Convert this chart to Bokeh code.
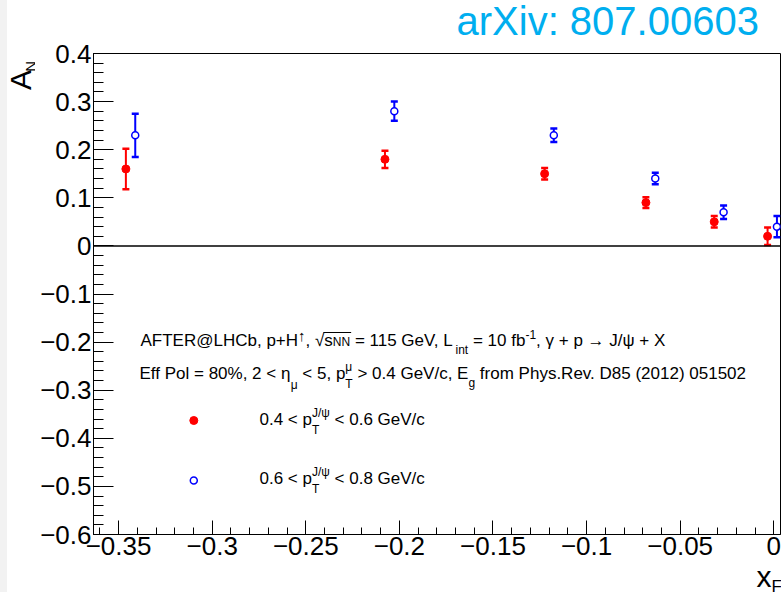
import math
from bokeh.plotting import figure
from bokeh.models import (Range1d, FixedTicker, Span, Whisker, TeeHead,
                          ColumnDataSource, Spacer)
from bokeh.layouts import row, column
from bokeh.embed import file_html
from bokeh.resources import INLINE
from bokeh.core.properties import value

# ---------------- data ----------------
red_x = [-0.3461, -0.2077, -0.1224, -0.0683, -0.0318, -0.0033]
red_y = [0.16, 0.18, 0.15, 0.09, 0.05, 0.02]
red_err = [0.042, 0.018, 0.012, 0.011, 0.012, 0.018]

blue_x = [-0.3411, -0.2027, -0.1175, -0.0633, -0.0268, 0.0017]
blue_y = [0.23, 0.28, 0.23, 0.14, 0.07, 0.04]
blue_err = [0.045, 0.020, 0.014, 0.012, 0.014, 0.022]

x_ticks = [-0.35, -0.3, -0.25, -0.2, -0.15, -0.1, -0.05, 0.0]
x_tick_labels = ["\u22120.35", "\u22120.3", "\u22120.25", "\u22120.2",
                 "\u22120.15", "\u22120.1", "\u22120.05", "0"]
y_ticks = [-0.6, -0.5, -0.4, -0.3, -0.2, -0.1, 0.0, 0.1, 0.2, 0.3, 0.4]
y_tick_labels = ["\u22120.6", "\u22120.5", "\u22120.4", "\u22120.3", "\u22120.2",
                 "\u22120.1", "0", "0.1", "0.2", "0.3", "0.4"]
x_minor = [round(-0.36 + 0.01 * i, 2) for i in range(37)]
y_minor = [round(-0.6 + 0.02 * i, 2) for i in range(51)]

title_text = "arXiv: 807.00603"

# ---------------- page geometry ----------------
W_TOT, H_TOT = 781, 592
PAD = 7                      # grey strip at the left edge
TITLE_H = 42                 # top strip holding the arXiv tag
BOT_H = 24                   # bottom strip holding the x-axis title
STRIP_W = 28                 # left strip holding the y-axis title
FRAME_L, FRAME_R, FRAME_T, FRAME_B = 93, 780, 53, 534
X0, X1 = -0.3634, 0.0036
Y0, Y1 = -0.6, 0.4
FONT = "Liberation Sans"
MID = 0.3465                 # baseline -> middle of the text box, in em

MAIN_X = PAD + STRIP_W
MAIN_W = W_TOT - MAIN_X
MAIN_H = H_TOT - TITLE_H - BOT_H


def dx(px):
    return X0 + (px - FRAME_L) / (FRAME_R - FRAME_L) * (X1 - X0)


def dy(py):
    return Y1 - (py - FRAME_T) / (FRAME_B - FRAME_T) * (Y1 - Y0)


p = figure(width=MAIN_W, height=MAIN_H,
           x_range=Range1d(X0, X1), y_range=Range1d(Y0, Y1),
           output_backend="svg", toolbar_location=None,
           min_border_left=FRAME_L - MAIN_X, min_border_right=W_TOT - FRAME_R,
           min_border_top=FRAME_T - TITLE_H, min_border_bottom=H_TOT - BOT_H - FRAME_B)
p.background_fill_color = "white"
p.border_fill_color = "white"
p.outline_line_color = "black"
p.outline_line_width = 1
p.xgrid.visible = False
p.ygrid.visible = False

p.xaxis.ticker = FixedTicker(ticks=x_ticks, minor_ticks=x_minor)
p.yaxis.ticker = FixedTicker(ticks=y_ticks, minor_ticks=y_minor)
p.xaxis.major_label_overrides = dict(zip(x_ticks, x_tick_labels))
p.yaxis.major_label_overrides = dict(zip(y_ticks, y_tick_labels))
for ax in (p.xaxis[0], p.yaxis[0]):
    ax.axis_line_color = "black"
    ax.axis_line_width = 1
    ax.major_tick_line_color = "black"
    ax.minor_tick_line_color = "black"
    ax.major_tick_out = 0
    ax.minor_tick_out = 0
    ax.major_label_text_font = FONT
    ax.major_label_text_font_size = "26px"
    ax.major_label_text_color = "black"
p.xaxis.major_tick_in = 14
p.xaxis.minor_tick_in = 7
p.yaxis.major_tick_in = 20
p.yaxis.minor_tick_in = 10
p.xaxis.major_label_standoff = 2
p.yaxis.major_label_standoff = 2

p.add_layout(Span(location=0, dimension="width", line_color="black", line_width=1.5))

# ---------------- data with error bars ----------------
rsrc = ColumnDataSource(dict(x=red_x, y=red_y,
                             lo=[y - e for y, e in zip(red_y, red_err)],
                             hi=[y + e for y, e in zip(red_y, red_err)]))
bsrc = ColumnDataSource(dict(x=blue_x, y=blue_y,
                             lo=[y - e for y, e in zip(blue_y, blue_err)],
                             hi=[y + e for y, e in zip(blue_y, blue_err)]))
for src, col in ((rsrc, "red"), (bsrc, "blue")):
    p.add_layout(Whisker(base="x", lower="lo", upper="hi", source=src,
                         line_color=col, line_width=2, level="underlay",
                         lower_head=TeeHead(size=7, line_color=col, line_width=2.5),
                         upper_head=TeeHead(size=7, line_color=col, line_width=2.5)))
p.scatter("x", "y", source=rsrc, size=8, fill_color="red", line_color="red")
p.scatter("x", "y", source=bsrc, size=7, fill_color="white", line_color="blue",
          line_width=1.5)

# ---------------- rich text helpers ----------------
CW = {' ': 278, '!': 278, '%': 889, '(': 333, ')': 333, '+': 584, ',': 278, '-': 333,
      '.': 278, '/': 278, ':': 278, '<': 584, '=': 584, '>': 584, '@': 1015,
      'A': 667, 'C': 722, 'D': 722, 'E': 667, 'F': 611, 'G': 778, 'H': 722, 'J': 500,
      'L': 556, 'N': 722, 'P': 667, 'R': 722, 'T': 611, 'V': 667, 'X': 667,
      'a': 556, 'b': 556, 'c': 500, 'e': 556, 'f': 278, 'g': 556, 'h': 556, 'i': 222,
      'l': 222, 'm': 833, 'n': 556, 'o': 556, 'p': 556, 'r': 333, 's': 500, 't': 278,
      'v': 500, 'x': 500, 'y': 500, '\u03b3': 500, '\u03b7': 556, '\u03bc': 576,
      '\u03c8': 712, '\u2192': 1000, '\u2191': 500, '\u221a': 549, '\u2212': 584}


def tw(s, size):
    return sum(CW.get(c, 556) for c in s) / 1000.0 * size


def put(pieces, cx, y, txt, size):
    # SVG drops leading blanks, so advance over them explicitly
    stripped = txt.lstrip(" ")
    cx += tw(txt[:len(txt) - len(stripped)], size)
    pieces.append((cx, y, stripped, size))
    return cx + tw(stripped, size)


def layout_rich(x, y, segs, size=17, small=12, sub_dy=8, sup_dy=-8):
    pieces, marks = [], []
    cx = x
    for seg in segs:
        kind = seg[0]
        if kind == "n":
            cx = put(pieces, cx, y, seg[1], size)
        elif kind == "sub":
            off = seg[2] if len(seg) > 2 else sub_dy
            cx = put(pieces, cx, y + off, seg[1], small)
        elif kind == "sup":
            off = seg[2] if len(seg) > 2 else sup_dy
            sz = seg[3] if len(seg) > 3 else small
            cx = put(pieces, cx, y + off, seg[1], sz)
        elif kind == "subsup":
            a = put(pieces, cx, y + sub_dy + 1, seg[1], small)
            b = put(pieces, cx, y + sup_dy, seg[2], small)
            cx = max(a, b)
        elif kind == "mark":
            marks.append(cx)
    return pieces, marks


line1 = [("n", "AFTER@LHCb, p+H"), ("sup", "\u2191", -6, 15), ("n", ", \u221a"), ("mark",),
         ("n", "s"), ("sub", "NN", 0), ("mark",),
         ("n", " = 115 GeV, L"), ("sub", "int"), ("n", " = 10 fb"), ("sup", "-1"),
         ("n", ", \u03b3 + p \u2192 J/\u03c8 + X")]
line2 = [("n", "Eff Pol = 80%, 2 < \u03b7"), ("sub", "\u03bc", 10), ("n", " < 5, p"),
         ("subsup", "T", "\u03bc"), ("n", " > 0.4 GeV/c, E"), ("sub", "g"),
         ("n", " from Phys.Rev. D85 (2012) 051502")]
leg1 = [("n", "0.4 < p"), ("subsup", "T", "J/\u03c8"), ("n", " < 0.6 GeV/c")]
leg2 = [("n", "0.6 < p"), ("subsup", "T", "J/\u03c8"), ("n", " < 0.8 GeV/c")]

all_pieces = []
pc, marks1 = layout_rich(140, 346, line1)
all_pieces += pc
pc, _ = layout_rich(139, 378.5, line2)
all_pieces += pc
pc, _ = layout_rich(259, 425, leg1)
all_pieces += pc
pc, _ = layout_rich(259, 484, leg2)
all_pieces += pc

for fs in sorted(set(q[3] for q in all_pieces)):
    sel = [q for q in all_pieces if q[3] == fs]
    src = ColumnDataSource(dict(x=[dx(q[0]) for q in sel],
                                y=[dy(q[1] - MID * fs) for q in sel],
                                text=[q[2] for q in sel]))
    p.text("x", "y", text="text", source=src, text_font=value(FONT),
           text_font_size=f"{fs}px", text_color="black",
           text_align=value("left"), text_baseline=value("middle"))

# sqrt overline
p.segment(x0=[dx(marks1[0] - 1)], y0=[dy(332)], x1=[dx(marks1[1] + 1)], y1=[dy(332)],
          line_color="black", line_width=1)

# legend markers
p.scatter(x=[dx(193.3)], y=[dy(420)], size=8, fill_color="red", line_color="red")
p.scatter(x=[dx(193.3)], y=[dy(480)], size=7, fill_color="white", line_color="blue",
          line_width=1.5)


# ---------------- helper strips for texts outside the frame ----------------
def strip(w, h, x_lo, y_top):
    """Blank figure whose data coordinates are page pixels."""
    f = figure(width=w, height=h, x_range=Range1d(x_lo, x_lo + w),
               y_range=Range1d(y_top + h, y_top),
               output_backend="svg", toolbar_location=None, min_border=0,
               x_axis_type=None, y_axis_type=None)
    f.outline_line_color = None
    f.background_fill_color = "white"
    f.border_fill_color = "white"
    return f


def stext(f, px, py, text, size, color="black", rotated=False):
    # (px, py) is the baseline start; convert to the middle of the text box
    if rotated:
        cx, cy, ang = px - MID * size, py, math.pi / 2
    else:
        cx, cy, ang = px, py - MID * size, 0.0
    f.text(x=[cx], y=[cy], text=[text], text_font=value(FONT),
           text_font_size=f"{size}px", text_color=color, angle=ang,
           text_align=value("left"), text_baseline=value("middle"))


top = strip(W_TOT - PAD, TITLE_H, PAD, 0)
stext(top, 456, 34.5, title_text, 40, color="#00AEEF")

side = strip(STRIP_W, MAIN_H, PAD, TITLE_H)
stext(side, 30, 82, "A", 30, rotated=True)
stext(side, 35, 82 - tw("A", 30), "N", 15, rotated=True)

bottom = strip(W_TOT - PAD, BOT_H, PAD, H_TOT - BOT_H)
stext(bottom, 756, 586, "x", 30)
stext(bottom, 756 + tw("x", 30), 592, "F", 17)

grey = Spacer(width=PAD, height=H_TOT, styles={"background-color": "#f2f2f2"})
layout = row(grey, column(top, row(side, p, spacing=0), bottom, spacing=0), spacing=0)

open("out.html", "w").write(file_html(layout, INLINE))
